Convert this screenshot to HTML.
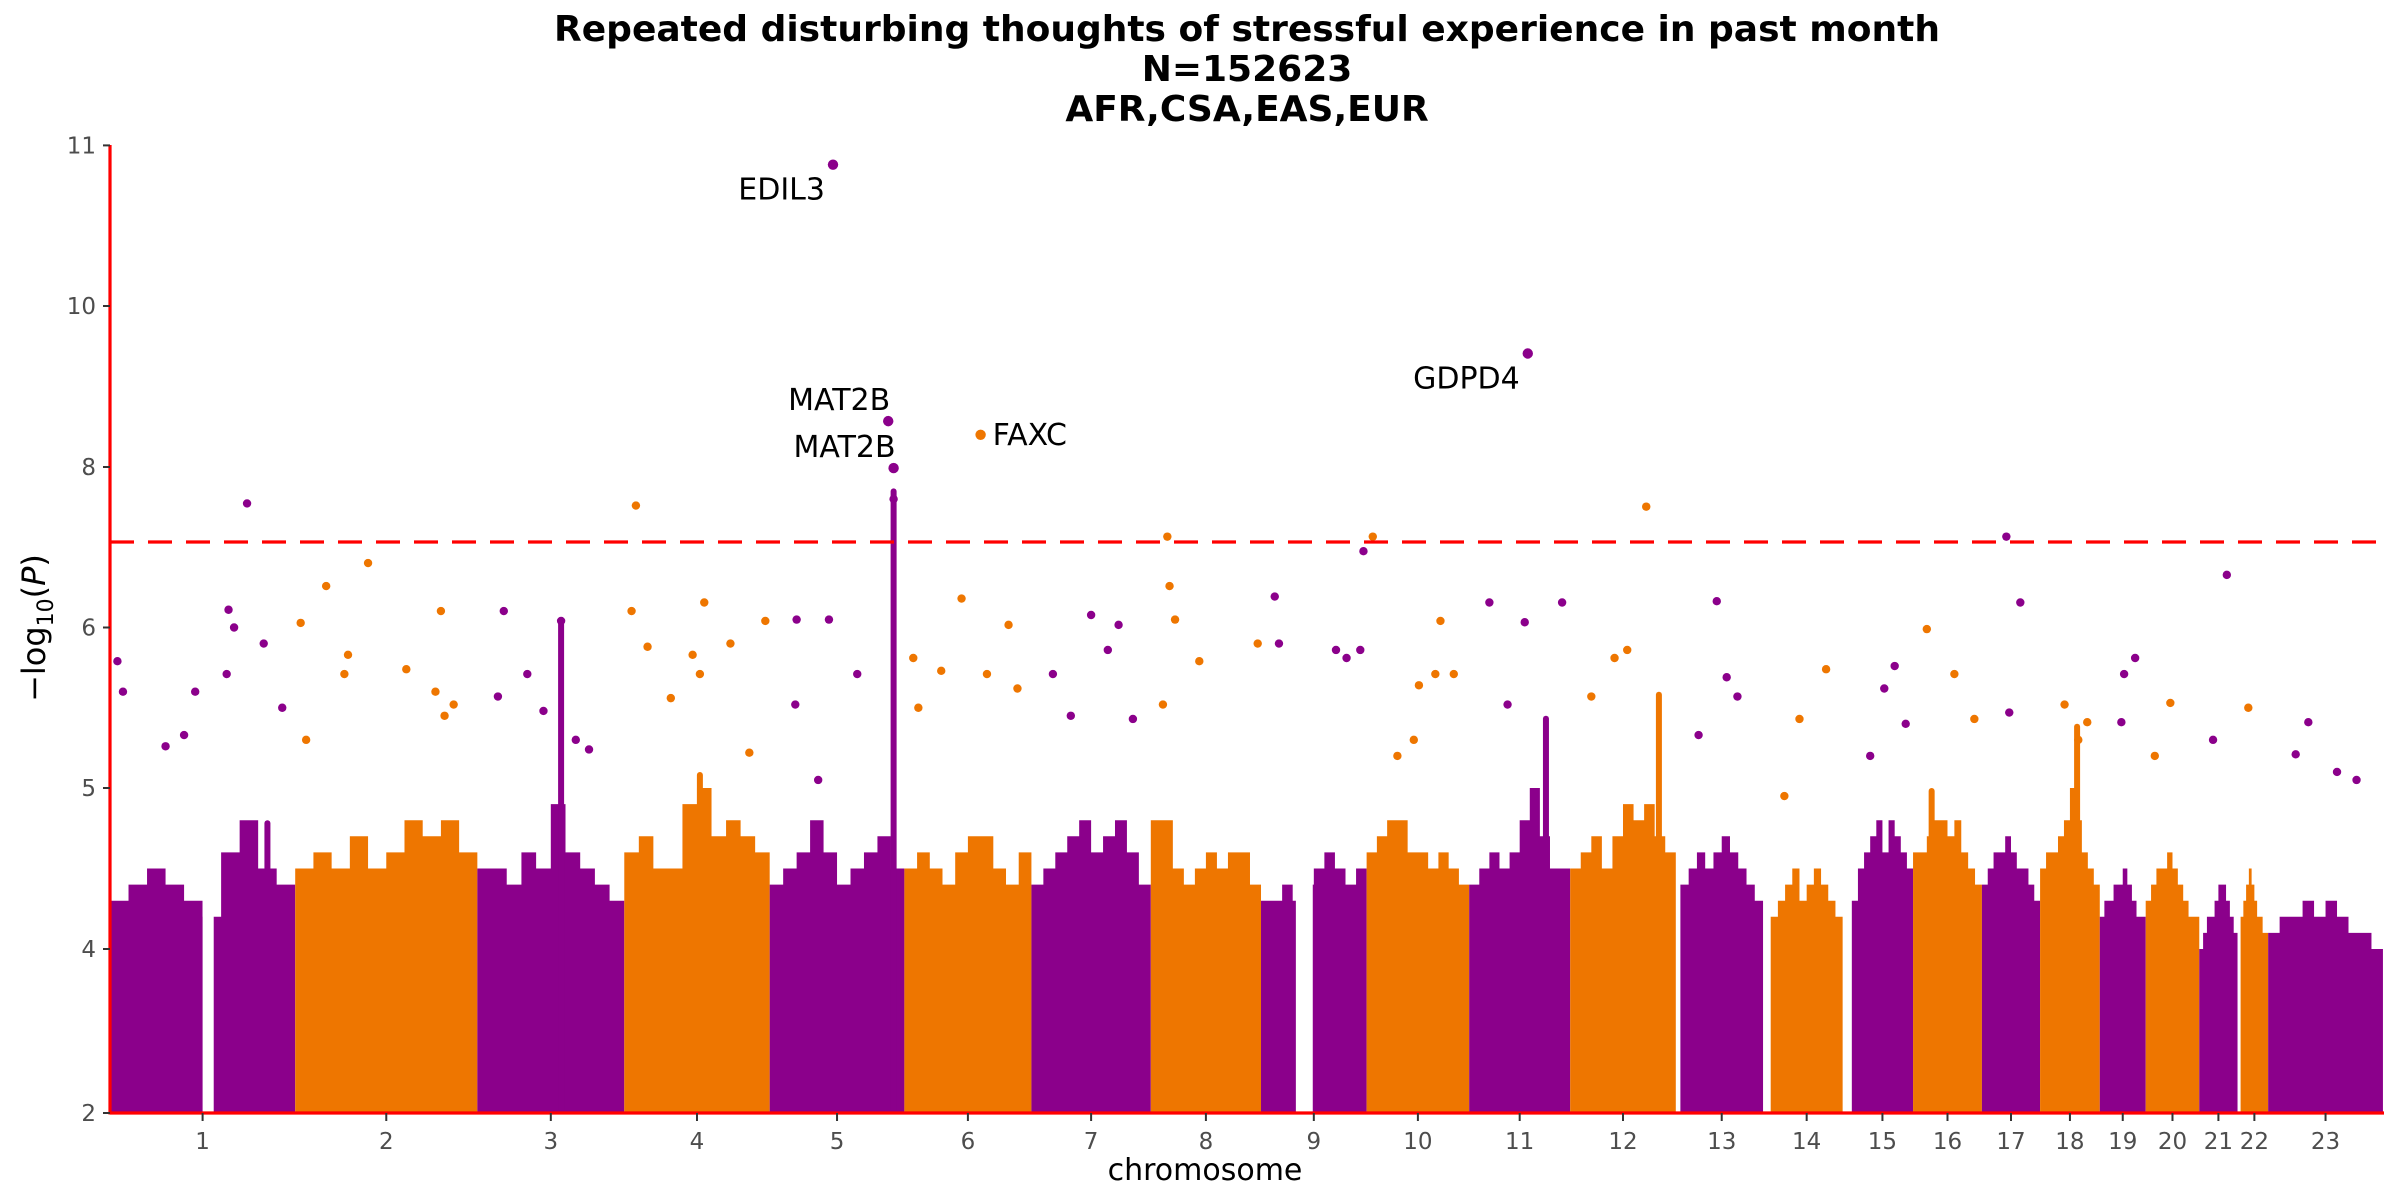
<!DOCTYPE html>
<html><head><meta charset="utf-8"><style>
html,body{margin:0;padding:0;background:#fff;overflow:hidden;}
svg{display:block;font-family:"DejaVu Sans","Liberation Sans",sans-serif;}
</style></head><body>
<svg id="chart" width="2400" height="1200" viewBox="0 0 2400 1200" xmlns="http://www.w3.org/2000/svg">
<g font-weight="bold" font-size="36" text-anchor="middle" fill="#000">
<text x="1247" y="41">Repeated disturbing thoughts of stressful experience in past month</text>
<text x="1247" y="81">N=152623</text>
<text x="1247" y="121">AFR,CSA,EAS,EUR</text>
</g>
<g id="bands"></g>
<g id="points"></g>
<g id="axes"></g>
<text x="1205" y="1180" font-size="30" text-anchor="middle" fill="#000">chromosome</text>
<text transform="translate(45,628) rotate(-90)" font-size="32" text-anchor="middle" fill="#000">−log<tspan font-size="22" dy="8">10</tspan><tspan dy="-8">(</tspan><tspan font-style="italic">P</tspan>)</text>
</svg>
<script>
// chromosome spans (genome position units)
const chrNames = ["1","2","3","4","5","6","7","8","9","10","11","12","13","14","15","16","17","18","19","20","21","22","23"];
const chrStart = [0,121,240,336,431,519,602,680,752,821,888,954,1026,1085,1138,1178,1223,1261,1300,1330,1365,1392,1410];
const chrEnd   = [121,240,336,431,519,602,680,752,821,888,954,1023,1080,1132,1178,1223,1261,1300,1330,1365,1390,1410,1485];
// gaps without data: [chrIndex, fracStart, fracEnd]
const gaps = [[0,0.50,0.56],[8,0.33,0.49]];
// dense envelope of -log10(P) per chromosome (10 bins each)
const bandTops = [
[4.3,4.4,4.5,4.4,4.3,4.2,4.6,4.8,4.5,4.4],
[4.5,4.6,4.5,4.7,4.5,4.6,4.8,4.7,4.8,4.6],
[4.5,4.5,4.4,4.6,4.5,4.9,4.6,4.5,4.4,4.3],
[4.6,4.7,4.5,4.5,4.9,5.0,4.7,4.8,4.7,4.6],
[4.4,4.5,4.6,4.8,4.6,4.4,4.5,4.6,4.7,4.5],
[4.5,4.6,4.5,4.4,4.6,4.7,4.7,4.5,4.4,4.6],
[4.4,4.5,4.6,4.7,4.8,4.6,4.7,4.8,4.6,4.4],
[4.8,4.8,4.5,4.4,4.5,4.6,4.5,4.6,4.6,4.4],
[4.3,4.3,4.4,4.3,4.4,4.5,4.6,4.5,4.4,4.5],
[4.6,4.7,4.8,4.8,4.6,4.6,4.5,4.6,4.5,4.4],
[4.4,4.5,4.6,4.5,4.6,4.8,5.0,4.7,4.5,4.5],
[4.5,4.6,4.7,4.5,4.7,4.9,4.8,4.9,4.7,4.6],
[4.4,4.5,4.6,4.5,4.6,4.7,4.6,4.5,4.4,4.3],
[4.2,4.3,4.4,4.5,4.3,4.4,4.5,4.4,4.3,4.2],
[4.3,4.5,4.6,4.7,4.8,4.6,4.8,4.7,4.6,4.5],
[4.6,4.6,4.7,4.8,4.8,4.7,4.8,4.6,4.5,4.4],
[4.4,4.5,4.6,4.6,4.7,4.6,4.5,4.5,4.4,4.3],
[4.5,4.6,4.6,4.7,4.8,5.0,4.8,4.6,4.5,4.4],
[4.2,4.3,4.3,4.4,4.4,4.5,4.4,4.3,4.2,4.2],
[4.3,4.4,4.5,4.5,4.6,4.5,4.4,4.3,4.2,4.2],
[4.0,4.1,4.2,4.2,4.3,4.4,4.4,4.3,4.2,4.1],
[4.2,4.3,4.4,4.5,4.4,4.3,4.2,4.2,4.1,4.1],
[4.1,4.2,4.2,4.3,4.2,4.3,4.2,4.1,4.1,4.0]];
// narrow dense columns: [chrIndex, frac, top value]
const spikes = [[0,0.85,4.8],[2,0.57,6.1],[4,0.92,7.8],[10,0.76,5.45],[11,0.84,5.6],[17,0.62,5.4],[3,0.52,5.1],[15,0.27,5.0]];
// individual SNPs: chromosome index, fraction along chromosome, -log10(P)
const snpChr  = [0,0,0,0,0,0,0,0,0,0,0, 1,1,1,1,1,1,1,1,1,1,1, 2,2,2,2,2,2,2, 3,3,3,3,3,3,3,3,3,3, 4,4,4,4,4,4,4,4,4, 5,5,5,5,5,5,5,5, 6,6,6,6,6,6, 7,7,7,7,7,7, 8,8,8,8,8,8, 9,9,9,9,9,9,9, 10,10,10,10,10, 11,11,11,11, 12,12,12,12, 13,13,13, 14,14,14,14, 15,15,15, 16,16,16, 17,17,17, 18,18,18, 19,19, 20,20,21, 22,22,22,22];
const snpFrac = [0.04,0.07,0.64,0.74,0.67,0.63,0.83,0.93,0.46,0.30,0.40, 0.17,0.40,0.03,0.29,0.27,0.80,0.77,0.82,0.87,0.61,0.06, 0.18,0.34,0.67,0.45,0.76,0.14,0.57, 0.08,0.05,0.16,0.55,0.52,0.47,0.97,0.32,0.73,0.86, 0.20,0.44,0.47,0.88,0.92,0.19,0.65,0.36,0.92, 0.60,0.45,0.82,0.29,0.11,0.65,0.89,0.07, 0.50,0.73,0.64,0.18,0.33,0.85, 0.15,0.17,0.22,0.44,0.11,0.97, 0.13,0.17,0.71,0.94,0.97,0.81, 0.06,0.72,0.67,0.51,0.85,0.46,0.30, 0.58,0.20,0.55,0.92,0.38, 0.72,0.54,0.42,0.20, 0.44,0.56,0.69,0.22, 0.19,0.77,0.40, 0.70,0.53,0.88,0.30, 0.20,0.60,0.89, 0.42,0.66,0.47, 0.41,0.79,0.64, 0.77,0.53,0.47, 0.46,0.17, 0.72,0.36,0.28, 0.35,0.24,0.60,0.77];
const snpP    = [5.79,5.6,6.27,7.66,6.0,5.71,5.9,5.5,5.6,5.26,5.33, 6.63,6.98,6.07,5.83,5.71,6.25,5.6,5.45,5.52,5.74,5.3, 6.25,5.71,5.3,5.48,5.24,5.57,6.1, 7.64,6.25,5.88,6.38,5.71,5.83,6.1,5.56,5.9,5.22, 6.12,6.12,10.88,8.57,7.99,5.52,5.71,5.05,7.7, 8.4,6.44,6.04,5.73,5.5,5.71,5.62,5.81, 6.19,6.04,5.86,5.71,5.45,5.43, 7.35,6.63,6.12,5.79,5.52,5.9, 6.47,5.9,5.86,5.86,7.16,5.81, 7.35,6.1,5.71,5.64,5.71,5.3,5.2, 9.41,6.38,6.08,6.38,5.52, 7.63,5.86,5.81,5.57, 6.4,5.69,5.57,5.33, 4.95,5.74,5.43, 5.76,5.62,5.4,5.2, 5.99,5.71,5.43, 7.35,6.38,5.47, 5.52,5.41,5.3, 5.81,5.71,5.41, 5.53,5.2, 6.8,5.3,5.5, 5.41,5.21,5.1,5.05];
// annotated genes
const geneLabels = ["EDIL3","MAT2B","MAT2B","FAXC","GDPD4"];
const geneChr = [4,4,4,5,10];
const geneFrac = [0.47,0.88,0.92,0.60,0.58];
const geneP = [10.88,8.57,7.99,8.4,9.41];
const yTicks = [2,4,5,6,8,10,11];
const threshold = 7.3;

const NS="http://www.w3.org/2000/svg";
const X0=110, SCALE=1.5306;
const yAnchorV=[2,4,5,6,7.3,8,10,11];
const yAnchorPx=[1113,949,788,627.5,542,467,306,145.4];
function xPos(u){return X0+u*SCALE;}
function chrX(c,f){return xPos(chrStart[c]+f*(chrEnd[c]-chrStart[c]));}
function yPos(v){
  if(v<=yAnchorV[0])return yAnchorPx[0];
  for(let i=1;i<yAnchorV.length;i++){
    if(v<=yAnchorV[i]){const t=(v-yAnchorV[i-1])/(yAnchorV[i]-yAnchorV[i-1]);return yAnchorPx[i-1]+t*(yAnchorPx[i]-yAnchorPx[i-1]);}
  }
  const n=yAnchorV.length-1;return yAnchorPx[n]+(v-yAnchorV[n])*(yAnchorPx[n]-yAnchorPx[n-1]);
}
const PURPLE="#8B008B", ORANGE="#EE7600";
function col(c){return c%2===0?PURPLE:ORANGE;}
function mk(tag,attrs,parent){const e=document.createElementNS(NS,tag);for(const k in attrs)e.setAttribute(k,attrs[k]);parent.appendChild(e);return e;}

const bands=document.getElementById('bands');
bandTops.forEach((tops,c)=>{
  const n=tops.length;
  const yb=yPos(2);
  let d="M"+chrX(c,0)+","+yb;
  for(let i=0;i<n;i++){
    const xa=chrX(c,i/n), xb=chrX(c,(i+1)/n), yt=yPos(tops[i]);
    d+=" L"+xa+","+yt+" L"+xb+","+yt;
  }
  d+=" L"+chrX(c,1)+","+yb+" Z";
  const p=mk('path',{d:d,fill:col(c)},bands);
  
  
});
spikes.forEach(s=>{
  const x=chrX(s[0],s[1]);
  const r=mk('rect',{x:x-3,y:yPos(s[2]),width:6,height:yPos(2)-yPos(s[2]),rx:3,fill:col(s[0])},bands);
  
  
});
gaps.forEach(g=>{
  const xa=chrX(g[0],g[1]), xb=chrX(g[0],g[2]);
  const r=mk('rect',{x:xa,y:140,width:xb-xa,height:yPos(2)-140,fill:"#fff"},bands);
  
  
});
const pts=document.getElementById('points');
for(let i=0;i<snpChr.length;i++){
  const c=snpChr[i];
  const cx=chrX(c,snpFrac[i]), cy=yPos(snpP[i]);
  if(!isFinite(cx)||!isFinite(cy))continue;
  const e=mk('circle',{cx:cx,cy:cy,r:4.2,fill:col(c)},pts);
  
  
}
for(let i=0;i<geneLabels.length;i++){
  const c=geneChr[i], x=chrX(c,geneFrac[i]), y=yPos(geneP[i]);
  const e=mk('circle',{cx:x,cy:y,r:5.2,fill:col(c)},pts);
  
  
  let tx,ty,anchor;
  if(i===3){tx=x+12;ty=y+10;anchor="start";}
  else if(i===1||i===2){tx=x+2;ty=y-11;anchor="end";}
  else {tx=x-8;ty=y+35;anchor="end";}
  const t=mk('text',{x:tx,y:ty,'font-size':30,'text-anchor':anchor,fill:"#000"},pts);
  t.textContent=geneLabels[i];
  
  
}
const ax=document.getElementById('axes');
const thr=mk('line',{x1:X0,x2:2384,y1:yPos(threshold),y2:yPos(threshold),stroke:"#FF0000",'stroke-width':3.2,'stroke-dasharray':"24,14"},ax);


const yl=mk('line',{x1:X0,x2:X0,y1:145,y2:yPos(2)+1.5,stroke:"#FF0000",'stroke-width':3.2},ax);


const xl=mk('line',{x1:X0,x2:2384,y1:yPos(2),y2:yPos(2),stroke:"#FF0000",'stroke-width':3.2},ax);


yTicks.forEach(v=>{
  const y=yPos(v);
  const tk=mk('line',{x1:X0-7,x2:X0,y1:y,y2:y,stroke:"#333",'stroke-width':2},ax);
  
  
  const t=mk('text',{x:X0-14,y:y+8,'font-size':23,'text-anchor':'end',fill:"#4d4d4d"},ax);
  t.textContent=v;
  
  
});
chrNames.forEach((n,c)=>{
  const x=chrX(c,0.5), y=yPos(2);
  const tk=mk('line',{x1:x,x2:x,y1:y,y2:y+8,stroke:"#333",'stroke-width':2},ax);
  
  
  const t=mk('text',{x:x,y:y+36,'font-size':23,'text-anchor':'middle',fill:"#4d4d4d"},ax);
  t.textContent=n;
  
  
});
</script>
</body></html>
